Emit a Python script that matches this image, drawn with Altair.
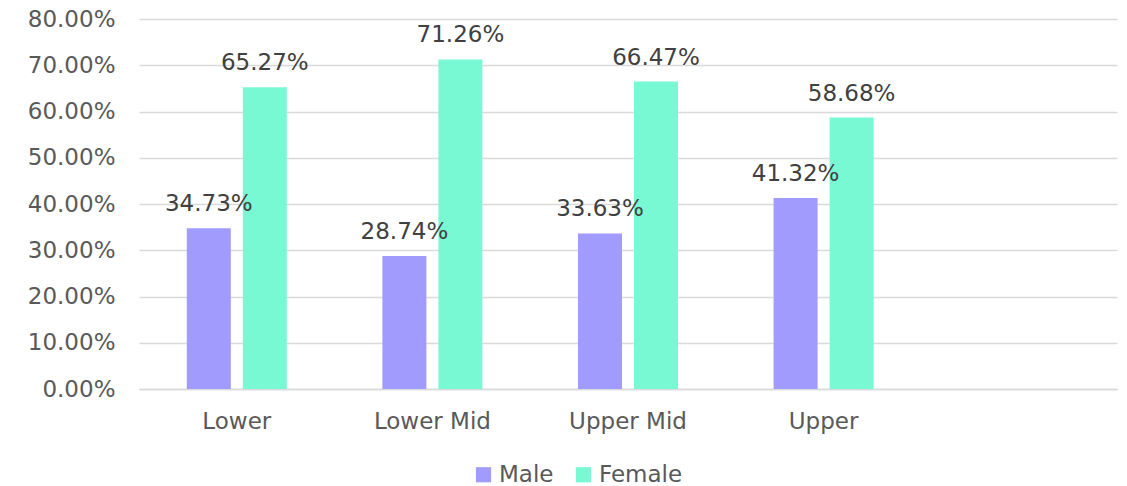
import altair as alt
import pandas as pd

categories = ["Lower", "Lower Mid", "Upper Mid", "Upper"]
male = [0.3473, 0.2874, 0.3363, 0.4132]
female = [0.6527, 0.7126, 0.6647, 0.5868]
series = ["Male", "Female"]
colors = ["#a29bfe", "#78f9d4"]
y_ticks = [0, 0.1, 0.2, 0.3, 0.4, 0.5, 0.6, 0.7, 0.8]

rows = []
for c, m, f in zip(categories, male, female):
    rows.append({"cat": c, "sex": "Male", "v": m})
    rows.append({"cat": c, "sex": "Female", "v": f})
df = pd.DataFrame(rows)

x_domain = categories + ["_"]
FONT = "DejaVu Sans"
FS = 23

x = alt.X("cat:N", scale=alt.Scale(domain=x_domain, paddingInner=0, paddingOuter=0),
          axis=alt.Axis(title=None, labelAngle=0, ticks=False, labelFontSize=FS,
                        labelColor="#595959", labelFont=FONT, labelPadding=21,
                        domainColor="#d9d9d9", domainWidth=1.5, grid=False,
                        labelExpr="datum.value == '_' ? '' : datum.value"))
xo = alt.XOffset("sex:N", scale=alt.Scale(domain=series, paddingInner=0.214, paddingOuter=0.853))
y = alt.Y("v:Q", scale=alt.Scale(domain=[0, 0.8], nice=False),
          axis=alt.Axis(title=None, format=".2%", values=y_ticks, ticks=False, domain=False,
                        labelFontSize=FS, labelColor="#595959", labelFont=FONT,
                        labelPadding=24, gridColor="#d9d9d9", gridWidth=1.5))

bars = alt.Chart(df).mark_bar().encode(
    x=x, xOffset=xo, y=y,
    color=alt.Color("sex:N", scale=alt.Scale(domain=series, range=colors),
                    legend=alt.Legend(title=None, orient="none", direction="horizontal",
                                      legendX=333, legendY=444, symbolType="square",
                                      symbolSize=230, symbolStrokeWidth=0, labelFontSize=FS,
                                      labelFont=FONT, labelColor="#595959", labelOffset=4,
                                      columnPadding=18)),
)

labels = alt.Chart(df).mark_text(fontSize=FS, font=FONT, color="#404040", dy=-17,
                                 baseline="alphabetic").encode(
    x=x, xOffset=xo, y=y, text=alt.Text("v:Q", format=".2%"),
)

chart = (bars + labels).properties(
    width=978, height=370,
    autosize=alt.AutoSizeParams(type="none"),
    padding={"left": 139, "top": 19, "right": 10, "bottom": 97},
).configure_view(stroke=None)

chart.save("out.html", embed_options={"renderer": "svg", "actions": False})
